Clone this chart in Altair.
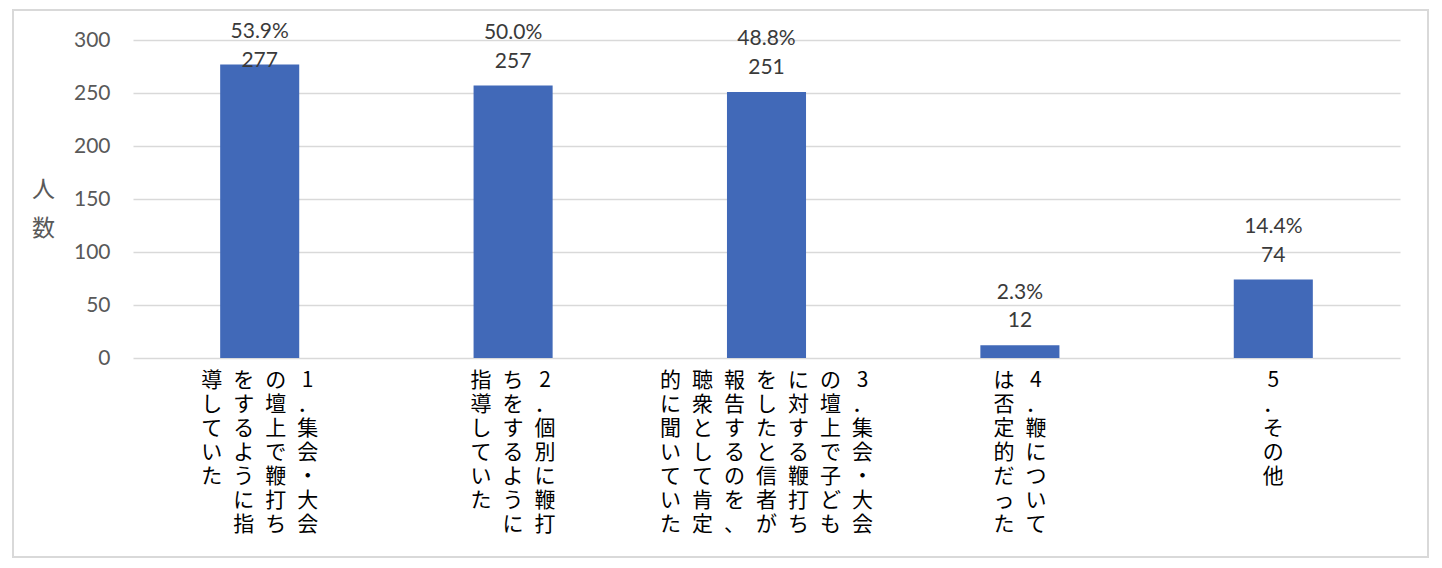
import altair as alt
import pandas as pd

# ---- data ----
label_columns = [
    ["1．集会・大会", "の壇上で鞭打ち", "をするように指", "導していた"],
    ["2．個別に鞭打", "ちをするように", "指導していた"],
    ["3．集会・大会", "の壇上で子ども", "に対する鞭打ち", "をしたと信者が",
     "報告するのを、", "聴衆として肯定", "的に聞いていた"],
    ["4．鞭について", "は否定的だった"],
    ["5．その他"],
]
counts = [277, 257, 251, 12, 74]
percents = [53.9, 50.0, 48.8, 2.3, 14.4]
y_ticks = [0, 50, 100, 150, 200, 250, 300]
y_title = ["人", "数"]

BAR_COLOR = "#4169b8"
GRID = "#d9d9d9"
NUM_FONT = "Lato"
JP_FONT = "Noto Sans CJK JP"

bars_df = pd.DataFrame({
    "idx": list(range(len(counts))),
    "count": counts,
    "pct": percents,
})

# one row per vertical text column (columns run right-to-left)
col_step = 32 / 253.4  # column spacing in band units
rows = []
for i, cols in enumerate(label_columns):
    n = len(cols)
    for k, line in enumerate(cols):
        rows.append({
            "xpos": i + 0.5 + ((n - 1) / 2 - k) * col_step,
            "text": "|".join(list(line)),
            "base": 0,
        })
labels_df = pd.DataFrame(rows)

xscale = alt.Scale(domain=[0, len(counts)], nice=False, zero=False)
yscale = alt.Scale(domain=[0, 300], nice=False)

base = alt.Chart(bars_df).transform_calculate(
    x0="datum.idx + 0.5 - 0.156",
    x1="datum.idx + 0.5 + 0.156",
    xc="datum.idx + 0.5",
    y0="0",
    ylab="min(datum.count, 258)",
    pct_txt="format(datum.pct, '.1f') + '%'",
)

bars = base.mark_bar(color=BAR_COLOR).encode(
    x=alt.X("x0:Q", scale=xscale, axis=None),
    x2="x1:Q",
    y=alt.Y("count:Q", scale=yscale,
            axis=alt.Axis(values=y_ticks, title=y_title, titleAngle=0,
                          titleX=-90, titleY=149, titleBaseline="middle",
                          titleAlign="center", titleLineHeight=39,
                          titleFont=JP_FONT, titleFontSize=23,
                          titleFontWeight="normal", titleColor="#595959",
                          labelFont=NUM_FONT, labelFontSize=21,
                          labelColor="#595959", labelPadding=23,
                          ticks=False, tickSize=0, domain=False,
                          grid=True, gridColor=GRID, gridWidth=1.3)),
    y2="y0:Q",
)

count_text = base.mark_text(font=NUM_FONT, fontSize=21, color="#3a3a3a",
                            baseline="middle", dy=-24).encode(
    x=alt.X("xc:Q", scale=xscale, axis=None),
    y=alt.Y("ylab:Q", scale=yscale),
    text="count:Q",
)

pct_text = base.mark_text(font=NUM_FONT, fontSize=21, color="#3a3a3a",
                          baseline="middle", dy=-52.5).encode(
    x=alt.X("xc:Q", scale=xscale, axis=None),
    y=alt.Y("ylab:Q", scale=yscale),
    text="pct_txt:N",
)

cat_text = alt.Chart(labels_df).mark_text(
    font=JP_FONT, fontSize=21, color="#000000", baseline="top",
    align="center", lineBreak="|", lineHeight=24, dy=12,
).encode(
    x=alt.X("xpos:Q", scale=xscale, axis=None),
    y=alt.Y("base:Q", scale=yscale),
    text="text:N",
)

border = alt.Chart(bars_df).mark_rect(fill=None, stroke="#d9d9d9",
                                      strokeWidth=1.5).encode(
    x=alt.value(-120), x2=alt.value(1295),
    y=alt.value(-30), y2=alt.value(517),
)

chart = alt.layer(border, bars, count_text, pct_text, cat_text).properties(
    width=1267, height=318,
    padding={"left": 133, "top": 40, "right": 42, "bottom": 210},
    autosize=alt.AutoSizeParams(type="none"),
    background="white",
).configure_view(stroke=None)

chart.save("out.html", embed_options={"renderer": "svg", "actions": False})
